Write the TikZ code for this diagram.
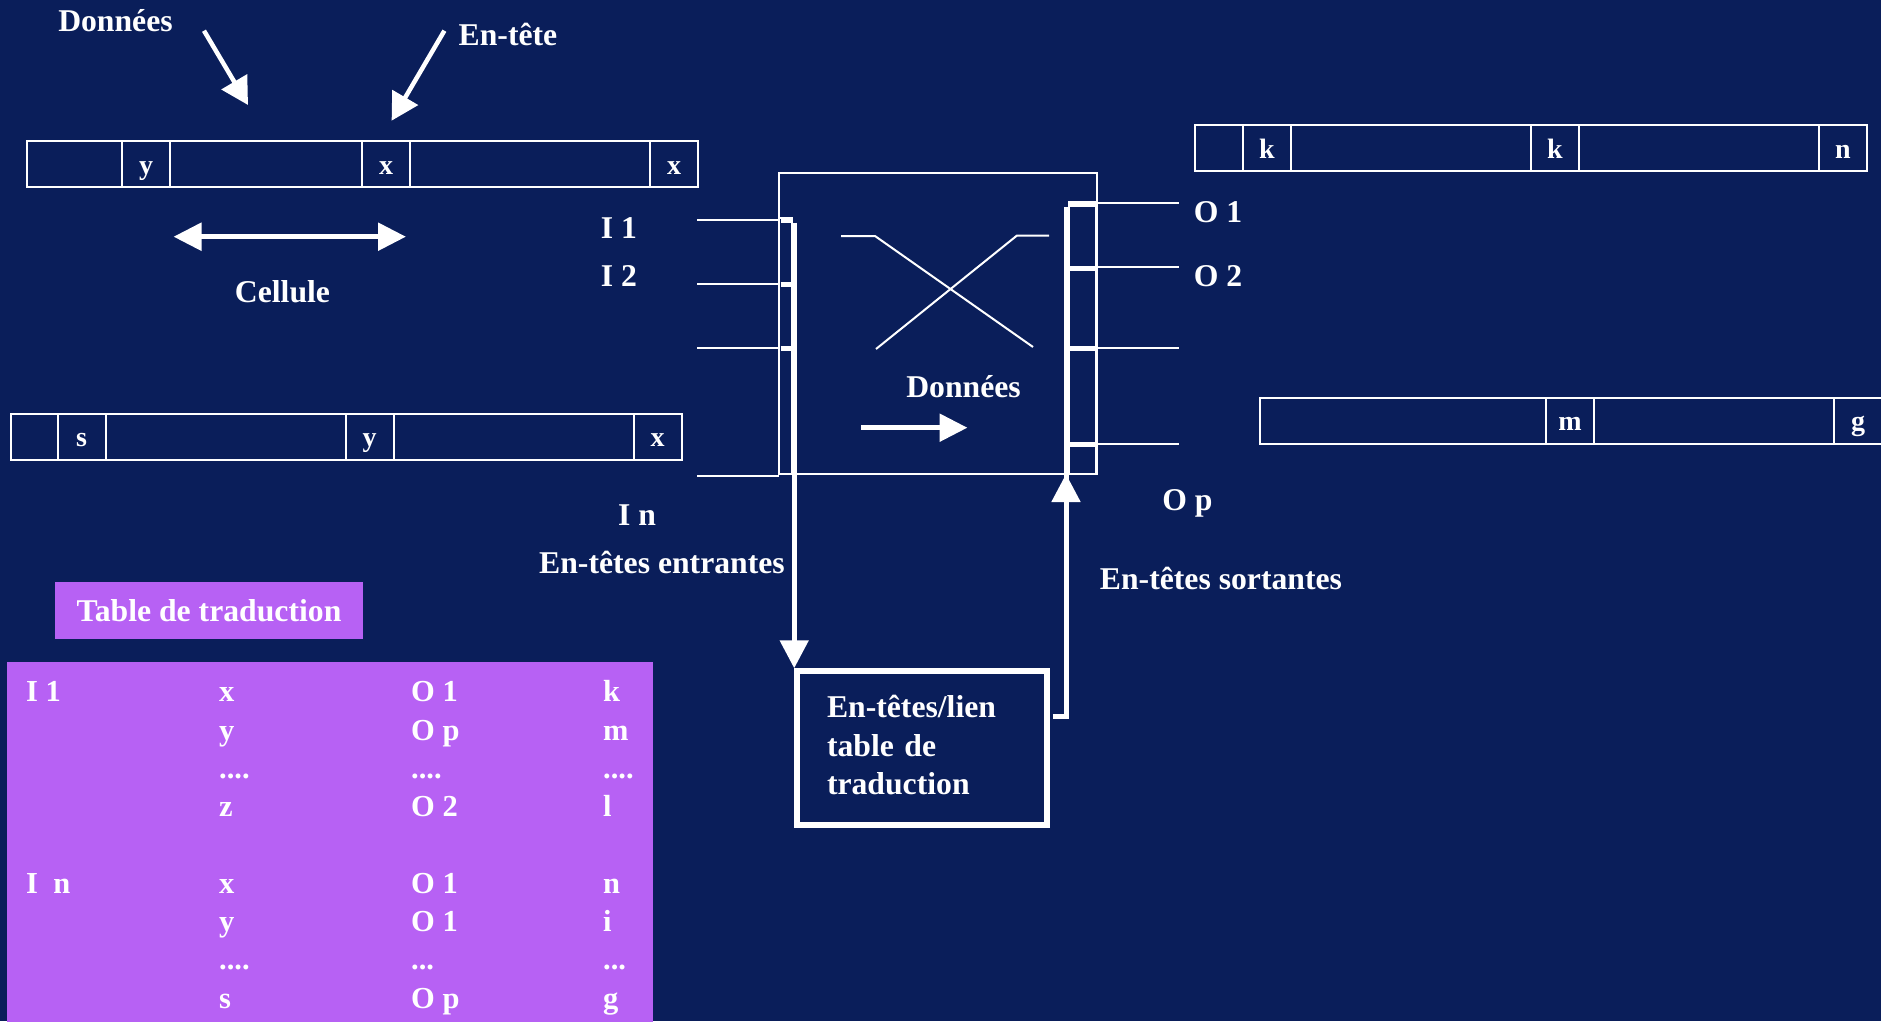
\documentclass[tikz,border=0pt]{standalone}
\usepackage{fontspec}
\setmainfont{Liberation Serif}
\usetikzlibrary{arrows.meta}
\definecolor{slidebg}{HTML}{0A1E5A}
\definecolor{tablepurple}{HTML}{B761F4}
\newcommand{\fourdots}{....}
\newcommand{\threedots}{...}
\tikzset{
  every node/.style={text=white, font=\bfseries\fontsize{31.7}{38.5}\selectfont},
  cellbox/.style={draw=white, line width=2pt, minimum height=46pt, inner sep=0pt, outer sep=0pt,
    text height=20pt, text depth=0pt, font=\bfseries\fontsize{28}{32}\selectfont},
  thinline/.style={draw=white, line width=2pt},
  busline/.style={draw=white, line width=5pt},
  bigarrow/.style={draw=white, line width=5pt, -{Triangle[length=28pt,width=28pt]}},
  pointer/.style={draw=white, line width=4.5pt, -{Triangle[length=27pt,width=29pt]}},
  tabletext/.style={anchor=base west, inner sep=0pt, font=\bfseries\fontsize{30.5}{36}\selectfont},
}
\begin{document}
\begin{tikzpicture}[x=1pt, y=-1pt]
    \useasboundingbox (0,0) rectangle (1881,1021);
    \fill[slidebg] (0,0) rectangle (1881,1021);
    % Incoming cells
    \foreach \name/\x/\w [count=\i] in {{}/26.6/95.4, y/122/48, {}/170/192, x/362/48, {}/410/240, x/650/48} {
        \node[cellbox, minimum width=\w pt, anchor=west] (CellA-\i) at (\x,164) {\name};
    }
    \foreach \name/\x/\w [count=\i] in {{}/10.8/46.8, s/57.6/48, {}/105.6/240, y/345.6/48, {}/393.6/240, x/633.6/48} {
        \node[cellbox, minimum width=\w pt, anchor=west] (CellB-\i) at (\x,436.5) {\name};
    }
    % Outgoing cells
    \foreach \name/\x/\w [count=\i] in {{}/1195/48, k/1243/48, {}/1291/240, k/1531/48, {}/1579/240, n/1819/48} {
        \node[cellbox, minimum width=\w pt, anchor=west] (CellC-\i) at (\x,148) {\name};
    }
    \foreach \name/\x/\w [count=\i] in {{}/1260/286, m/1546/48, {}/1594/240, g/1834/48} {
        \node[cellbox, minimum width=\w pt, anchor=west] (CellD-\i) at (\x,420.5) {\name};
    }
    % Cell legend
    \node[anchor=base] (DataLbl) at (115.5,31) {Données};
    \node[anchor=base] (HeadLbl) at (508,45) {En-tête};
    \node[anchor=base] (CellLbl) at (282.5,302) {Cellule};
    \coordinate (DataTail) at (204,30.7);
    \coordinate (DataTip) at (248,105);
    \coordinate (HeadTail) at (444.4,30.7);
    \coordinate (HeadTip) at (391.6,120.7);
    \coordinate (CellL) at (173.5,236.7);
    \coordinate (CellR) at (406,236.7);
    \draw[pointer] (DataTail) -- (DataTip);
    \draw[pointer] (HeadTail) -- (HeadTip);
    \draw[white, line width=5.5pt, {Triangle[length=28pt,width=27pt]}-{Triangle[length=28pt,width=27pt]}] (CellL) -- (CellR);
    % Switch
    \node[thinline, minimum width=318pt, minimum height=300.7pt, outer sep=0pt] (Switch) at (938,323.65) {};
    \draw[thinline] (841,236) -- (875,236) -- (1033,347);
    \draw[thinline] (876,349) -- (1017,235.5) -- (1049,235.5);
    \node[anchor=base] (FlowLbl) at (963.5,397) {Données};
    \coordinate (FlowTail) at (861,427.7);
    \coordinate (FlowTip) at (967.5,427.7);
    \draw[white, line width=5.5pt, -{Triangle[length=28pt,width=27pt]}] (FlowTail) -- (FlowTip);
    % Inputs
    \foreach \y [count=\i] in {220,284.3,348.3,475.7} {
        \coordinate (In-\i) at (697,\y);
        \draw[thinline] (In-\i) -- (In-\i -| Switch.west);
    }
    \foreach \name/\x/\y [count=\i] in {I 1/619/238, I 2/619/286, I n/637/525.7} {
        \node[anchor=base] (InLbl-\i) at (\x,\y) {\name};
    }
    \node[anchor=base] (InHdr) at (662,573) {En-têtes entrantes};
    % Outputs
    \foreach \y [count=\i] in {203.3,267.3,348.3,444} {
        \coordinate (Out-\i) at (1179,\y);
        \draw[thinline] (Out-\i -| Switch.east) -- (Out-\i);
    }
    \foreach \name/\x/\y [count=\i] in {O 1/1218/222.7, O 2/1218/286, O p/1187.5/510} {
        \node[anchor=base] (OutLbl-\i) at (\x,\y) {\name};
    }
    \node[anchor=base] (OutHdr) at (1221,589) {En-têtes sortantes};
    % Lookup box
    \node[draw=white, line width=5.5pt, minimum width=250pt, minimum height=154pt,
          inner xsep=30pt, text width=190pt, text depth=83pt, align=left] (Lookup) at (922,748)
          {En-têtes/lien\\table de\\traduction};
    % Header buses
    \draw[thinline] (779,217.7) rectangle (791.7,474);
    \foreach \y in {220.2,284.2,348.2} {
        \draw[busline] (780.7,\y) -- (791.7,\y);
    }
    \coordinate (InBus) at (794.2,222.7);
    \draw[bigarrow] (InBus) -- (InBus |- Lookup.north);
    \draw[thinline] (1069,201.7) rectangle (1095.5,474);
    \foreach \y in {204.2,268.2,348.5,444.2} {
        \draw[busline] (1069,\y) -- (1095.5,\y);
    }
    \coordinate (OutBus) at (1066,206.7);
    \coordinate (LookupOut) at ([xshift=3pt, yshift=32pt]Lookup.east);
    \draw[busline] (LookupOut) -| (OutBus);
    \draw[bigarrow] (LookupOut -| OutBus) -- (OutBus |- Switch.south);
    % Translation table
    \node[fill=tablepurple, minimum width=308pt, minimum height=57pt, inner sep=0pt] (TableTitle) at (209,610.5) {Table de traduction};
    \node[fill=tablepurple, minimum width=646pt, minimum height=370pt, anchor=north west, inner sep=0pt, outer sep=0pt] (TableBody) at (7,662) {};
    \node[tabletext] (Tab-0-1) at (26,701.7) {I 1};
    \node[tabletext] (Tab-5-1) at (26,893.2) {I~~n};
    \foreach \b/\c/\d/\r in {x/O 1/k/0, y/O p/m/1, \fourdots/\fourdots/\fourdots/2, z/O 2/l/3,
                             x/O 1/n/5, y/O 1/i/6, \fourdots/\threedots/\threedots/7, s/O p/g/8} {
        \node[tabletext] (Tab-\r-2) at (219,701.7+38.3*\r) {\b};
        \node[tabletext] (Tab-\r-3) at (411,701.7+38.3*\r) {\c};
        \node[tabletext] (Tab-\r-4) at (603,701.7+38.3*\r) {\d};
    }
\end{tikzpicture}
\end{document}
